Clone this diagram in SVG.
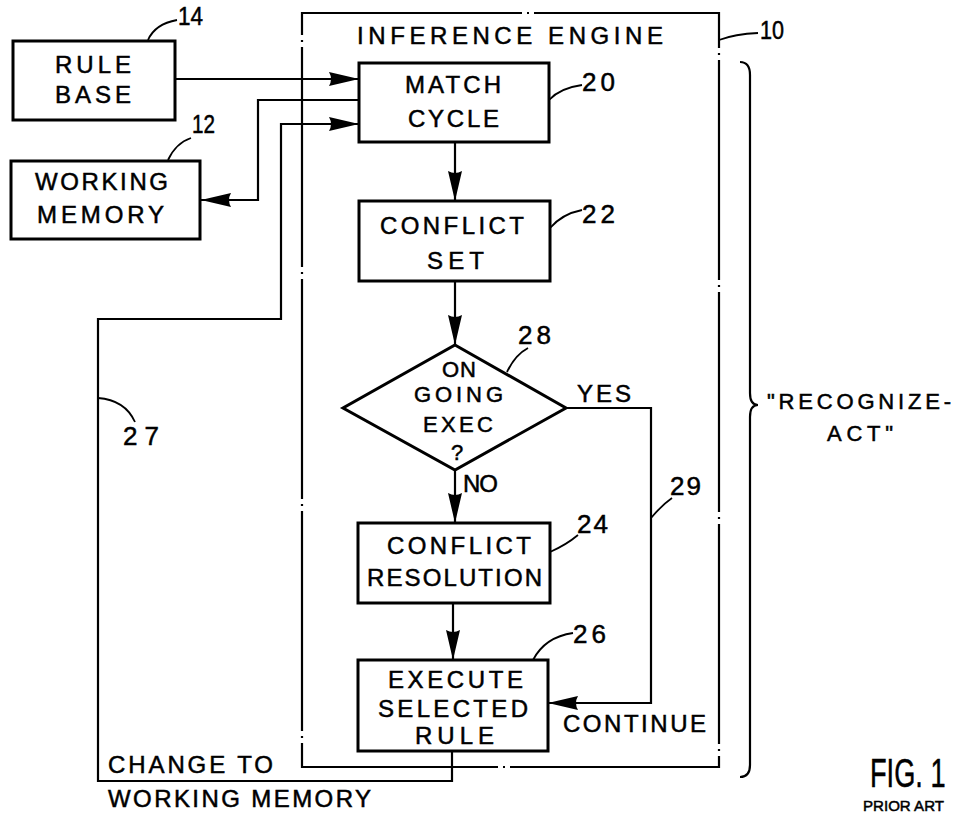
<svg xmlns="http://www.w3.org/2000/svg" width="965" height="813" viewBox="0 0 965 813">
<defs>
<style>
text{font-family:"Liberation Sans",Arial,sans-serif;font-size:24px;fill:#000;stroke:#000;stroke-width:0.5}
.sm{font-size:22px}
.num{font-size:26px}
.box{fill:#fff;stroke:#000;stroke-width:3}
.ln{fill:none;stroke:#000;stroke-width:2.2}
.ld{fill:none;stroke:#000;stroke-width:1.8}
.frame{fill:none;stroke:#000;stroke-width:2.2;stroke-dasharray:220 5 2 5}
</style>
<marker id="ah" viewBox="0 0 30 14" refX="30" refY="7" markerWidth="30" markerHeight="14" markerUnits="userSpaceOnUse" orient="auto">
<path d="M0,0 L30,7 L0,14 Q4,7 0,0 Z" fill="#000"/>
</marker>
</defs>
<rect width="965" height="813" fill="#fff"/>

<g id="inference-engine">
<rect class="frame" x="302" y="13" width="417" height="754"/>
<text x="357" y="44" textLength="306" lengthAdjust="spacing">INFERENCE ENGINE</text>
<path class="ld" d="M719,40 Q735,34 758,33"/>
<text class="num" x="760" y="39" textLength="24" lengthAdjust="spacingAndGlyphs">10</text>
</g>

<g id="connectors">
<line class="ln" x1="175" y1="79" x2="359" y2="79" marker-end="url(#ah)"/>
<path class="ln" d="M359,100 L258,100 L258,200 L201,200" marker-end="url(#ah)"/>
<path class="ln" d="M452,751 L452,781 L98,781 L98,319 L281,319 L281,124 L359,124" marker-end="url(#ah)"/>
<line class="ln" x1="455" y1="142" x2="455" y2="201" marker-end="url(#ah)"/>
<line class="ln" x1="455" y1="281" x2="455" y2="345" marker-end="url(#ah)"/>
<line class="ln" x1="455" y1="470" x2="455" y2="523" marker-end="url(#ah)"/>
<line class="ln" x1="453" y1="603" x2="453" y2="660" marker-end="url(#ah)"/>
<path class="ln" d="M566,408 L651,408 L651,703 L548,703" marker-end="url(#ah)"/>
<path class="ld" d="M98,398 Q125,400 135,422"/>
<text class="num" x="123" y="445" textLength="36" lengthAdjust="spacing">27</text>
<path class="ld" d="M651,518 Q662,505 672,498"/>
<text class="num" x="670" y="495" textLength="31" lengthAdjust="spacing">29</text>
<text x="577" y="402" textLength="54" lengthAdjust="spacing">YES</text>
<text x="463" y="492" textLength="35" lengthAdjust="spacing">NO</text>
<text x="563" y="732" textLength="143" lengthAdjust="spacing">CONTINUE</text>
<text x="108" y="773" textLength="165" lengthAdjust="spacing">CHANGE TO</text>
<text x="108" y="807" textLength="263" lengthAdjust="spacing">WORKING MEMORY</text>
</g>

<g id="rule-base">
<rect class="box" x="13" y="41" width="162" height="79"/>
<text x="55" y="73" textLength="76" lengthAdjust="spacing">RULE</text>
<text x="55" y="103" textLength="76" lengthAdjust="spacing">BASE</text>
<path class="ld" d="M148,40 Q155,24 177,20"/>
<text class="num" x="178" y="25" textLength="25" lengthAdjust="spacingAndGlyphs">14</text>
</g>

<g id="working-memory">
<rect class="box" x="11" y="161" width="189" height="78"/>
<text x="35" y="190" textLength="133" lengthAdjust="spacing">WORKING</text>
<text x="37" y="223" textLength="127" lengthAdjust="spacing">MEMORY</text>
<path class="ld" d="M168,160 Q176,143 191,138"/>
<text class="num" x="192" y="133" textLength="23" lengthAdjust="spacingAndGlyphs">12</text>
</g>

<g id="match-cycle">
<rect class="box" x="359" y="63" width="190" height="79"/>
<text x="405" y="93" textLength="96" lengthAdjust="spacing">MATCH</text>
<text x="408" y="127" textLength="91" lengthAdjust="spacing">CYCLE</text>
<path class="ld" d="M549,100 Q560,88 582,85"/>
<text class="num" x="582" y="91" textLength="33" lengthAdjust="spacing">20</text>
</g>

<g id="conflict-set">
<rect class="box" x="359" y="201" width="191" height="80"/>
<text x="380" y="234" textLength="144" lengthAdjust="spacing">CONFLICT</text>
<text x="427" y="269" textLength="57" lengthAdjust="spacing">SET</text>
<path class="ld" d="M550,228 Q562,214 582,210"/>
<text class="num" x="582" y="223" textLength="33" lengthAdjust="spacing">22</text>
</g>

<g id="ongoing-exec">
<polygon class="box" points="455,345 566,408 455,470 343,408"/>
<text class="sm" x="442" y="377" textLength="34" lengthAdjust="spacing">ON</text>
<text class="sm" x="414" y="402" textLength="89" lengthAdjust="spacing">GOING</text>
<text class="sm" x="423" y="432" textLength="70" lengthAdjust="spacing">EXEC</text>
<text class="sm" x="451" y="460">?</text>
<path class="ld" d="M507,372 Q515,355 528,348"/>
<text class="num" x="518" y="344" textLength="33" lengthAdjust="spacing">28</text>
</g>

<g id="conflict-resolution">
<rect class="box" x="358" y="523" width="192" height="80"/>
<text x="387" y="554" textLength="144" lengthAdjust="spacing">CONFLICT</text>
<text x="367" y="586" textLength="175" lengthAdjust="spacing">RESOLUTION</text>
<path class="ld" d="M550,552 Q566,545 578,535"/>
<text class="num" x="577" y="533" textLength="31" lengthAdjust="spacing">24</text>
</g>

<g id="execute-selected-rule">
<rect class="box" x="358" y="660" width="190" height="91"/>
<text x="388" y="688" textLength="135" lengthAdjust="spacing">EXECUTE</text>
<text x="378" y="717" textLength="150" lengthAdjust="spacing">SELECTED</text>
<text x="415" y="744" textLength="79" lengthAdjust="spacing">RULE</text>
<path class="ld" d="M533,660 Q545,637 573,633"/>
<text class="num" x="573" y="643" textLength="33" lengthAdjust="spacing">26</text>
</g>

<g id="recognize-act">
<path class="ln" d="M740,62 Q750,62 750,75 L750,393 Q750,405 758,405 Q750,405 750,417 L750,765 Q750,777 740,777"/>
<text x="767" y="409" textLength="184" lengthAdjust="spacing" style="font-size:22px">"RECOGNIZE-</text>
<text x="827" y="441" textLength="66" lengthAdjust="spacing" style="font-size:22px">ACT"</text>
</g>

<g id="caption">
<text transform="translate(870,787) scale(0.68,1)" style="font-size:40px">FIG. 1</text>
<text x="863" y="811" textLength="81" lengthAdjust="spacingAndGlyphs" style="font-size:15px">PRIOR ART</text>
</g>
</svg>
